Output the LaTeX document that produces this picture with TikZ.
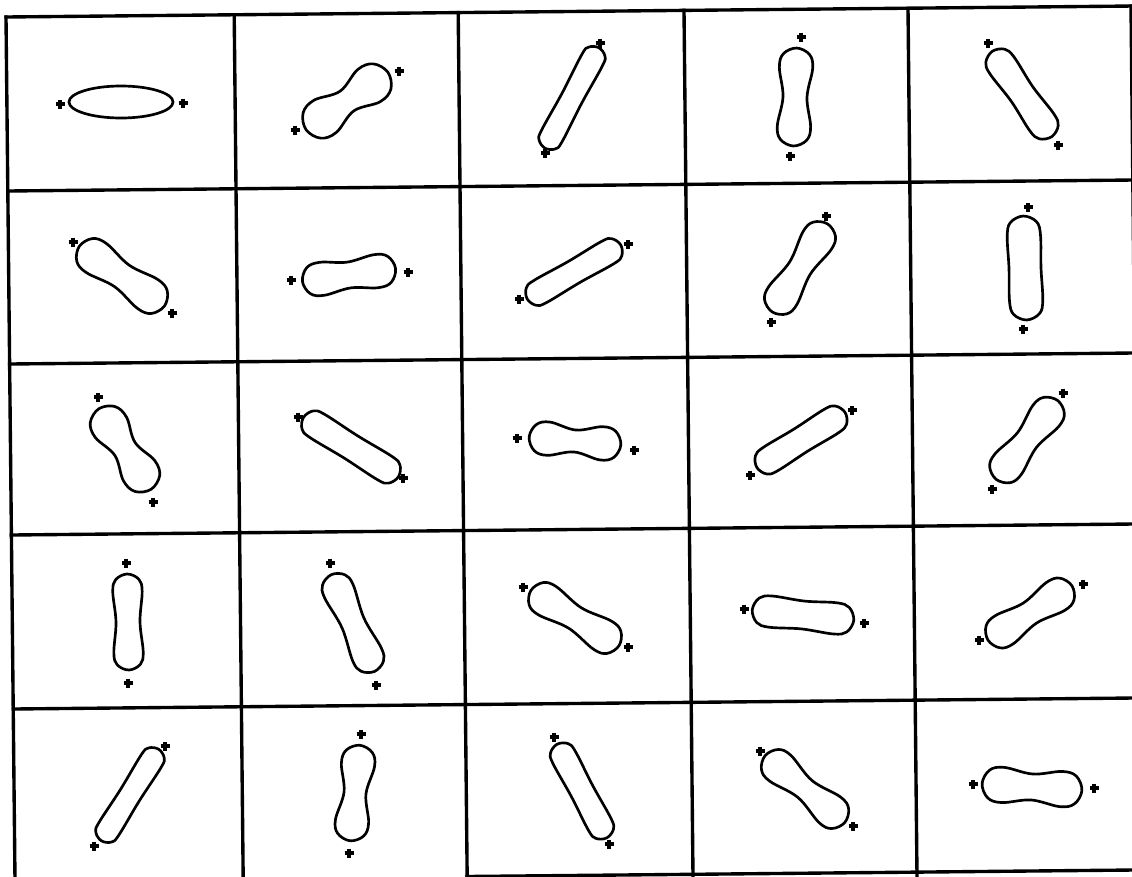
\documentclass[tikz,border=0pt]{standalone}
\usetikzlibrary{calc}
\tikzset{
  gridline/.style={line width=2.4pt, line cap=rect},
  outline/.style={line width=1.9pt, line join=round},
  cross/.style={line width=2.5pt},
}
\newcommand{\crossat}[2]{\draw[cross, shift={(#1,#2)}] (-4.5,0) -- (4.5,0) (0,-4.5) -- (0,4.5);}
\newcommand{\peanut}[6]{%
  \pgfmathsetmacro\lc{#4-#5}%
  \draw[outline, shift={(#1,#2)}, rotate=#3] plot[smooth cycle, tension=0.6] coordinates {
    ({\lc+#5},0) ({\lc+0.64*#5},{0.77*#5}) ({\lc-0.17*#5},{0.98*#5}) (0,#6)
    ({-\lc+0.17*#5},{0.98*#5}) ({-\lc-0.64*#5},{0.77*#5}) ({-\lc-#5},0)
    ({-\lc-0.64*#5},{-0.77*#5}) ({-\lc+0.17*#5},{-0.98*#5}) (0,-#6)
    ({\lc-0.17*#5},{-0.98*#5}) ({\lc+0.64*#5},{-0.77*#5})};}

\begin{document}
\begin{tikzpicture}[x=0.025cm, y=-0.025cm]
  \fill[white] (0,0) rectangle (1132,876);
  \useasboundingbox (0,0) rectangle (1132,876);
  % frame
  \draw[gridline] (6,17) -- (1134,6);
  \draw[gridline] (7.8,191) -- (1134,180);
  \draw[gridline] (9.6,364) -- (1134,353);
  \draw[gridline] (11.4,535) -- (1134,524);
  \draw[gridline] (13.2,709) -- (1134,698);
  \draw[gridline] (467,876.5) -- (1134,870);
  \draw[gridline] (6,17) -- (15,880);
  \draw[gridline] (234.2,14.8) -- (243.2,880);
  \draw[gridline] (458.2,12.6) -- (467.2,880);
  \draw[gridline] (684,10.4) -- (693,876);
  \draw[gridline] (908,8.2) -- (917,876);
  \draw[gridline] (1131,6) -- (1140,876);
  % row 1
  \draw[outline] (121,102) ellipse [x radius=1.3cm, y radius=0.4cm];
  \crossat{60}{104} \crossat{183}{103}
  \peanut{347}{101}{35}{50}{20}{12} \crossat{295}{130} \crossat{399}{71}
  \peanut{572}{98}{62}{57}{12}{11} \crossat{545}{153} \crossat{600}{43}
  \peanut{795}{97}{88}{49}{17}{12} \crossat{801}{37} \crossat{790}{156}
  \peanut{1022}{94}{-55}{52}{15}{13} \crossat{988}{43} \crossat{1058}{145}
  % row 2
  \peanut{122}{276}{-35}{52}{18}{13} \crossat{73}{242} \crossat{172}{313}
  \peanut{349}{275}{8}{47}{17}{13} \crossat{291}{280} \crossat{408}{272}
  \peanut{574}{272}{30}{54}{13}{12} \crossat{519}{299} \crossat{628}{244}
  \peanut{800}{268}{58}{52}{17}{12} \crossat{771}{322} \crossat{826}{216}
  \peanut{1025}{268}{92}{52}{17}{16} \crossat{1028}{207} \crossat{1023}{329}
  % row 3
  \peanut{125}{449}{-57}{48}{19}{12} \crossat{98}{397} \crossat{153}{502}
  \peanut{351}{447}{-32}{56}{14}{13} \crossat{298}{417} \crossat{403}{478}
  \peanut{575}{441}{-5}{46}{17}{11} \crossat{517}{438} \crossat{634}{450}
  \peanut{801}{440}{32}{52}{14}{13} \crossat{750}{475} \crossat{852}{410}
  \peanut{1027}{440}{52}{50}{17}{12} \crossat{992}{489} \crossat{1063}{393}
  % row 4
  \peanut{128}{622}{91}{48}{15}{12} \crossat{126}{563} \crossat{128}{683}
  \peanut{353}{623}{-66}{53}{16}{12} \crossat{330}{563} \crossat{376}{685}
  \peanut{575}{618}{-32}{52}{17}{12} \crossat{523}{587} \crossat{628}{647}
  \peanut{803}{615}{-6}{51}{16}{14} \crossat{744}{609} \crossat{864}{623}
  \peanut{1030}{613}{33}{50}{17}{12} \crossat{979}{640} \crossat{1083}{584}
  % row 5
  \peanut{130}{795}{58}{54}{12}{11} \crossat{94}{846} \crossat{165}{746}
  \peanut{355}{793}{84}{48}{17}{11} \crossat{361}{734} \crossat{349}{853}
  \peanut{582}{791}{-62}{53}{13}{12} \crossat{554}{737} \crossat{609}{844}
  \peanut{805}{789}{-40}{52}{17}{11} \crossat{760}{751} \crossat{853}{826}
  \peanut{1032}{787}{-4}{50}{18}{13} \crossat{973}{784} \crossat{1094}{788}
\end{tikzpicture}
\end{document}
